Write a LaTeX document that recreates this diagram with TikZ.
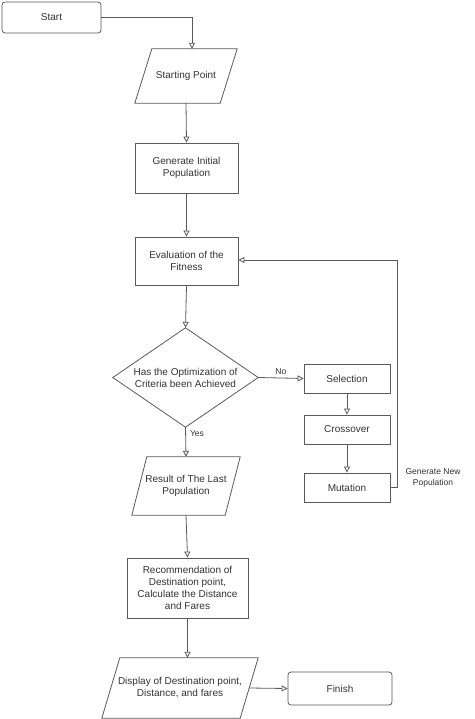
\documentclass[tikz,border=0pt]{standalone}
\usepackage{fontspec}
\setmainfont{Liberation Sans}
\usetikzlibrary{arrows.meta,calc}
\definecolor{linec}{HTML}{5A5A5A}
\definecolor{textc}{HTML}{333333}
\begin{document}
\begin{tikzpicture}[x=1pt,y=-1pt,
  every node/.style={font=\fontsize{10}{12}\selectfont, text=textc, align=center, inner sep=0pt},
  box/.style={draw=linec, line width=0.8pt, fill=white},
  rbox/.style={box, rounded corners=3pt},
  shapebox/.style={},
  arr/.style={draw=linec, line width=0.8pt, -{Triangle[open, length=6pt, width=6pt]}},
  conn/.style={draw=linec, line width=0.8pt},
  lbl/.style={font=\fontsize{8.5}{11}\selectfont}
]
\useasboundingbox (0,0) rectangle (474,719);
\fill[white] (0,0) rectangle (474,719);

% nodes
\node[rbox, minimum width=99pt, minimum height=31pt] (start) at (51.5,17.5) {Start};
\node[shapebox, minimum width=102pt, minimum height=54pt] (sp) at (186,76) {Starting Point};
\node[box, minimum width=103pt, minimum height=50pt] (gen) at (186.5,168) {Generate Initial\\Population};
\node[box, minimum width=103pt, minimum height=48pt] (eval) at (186.5,261) {Evaluation of the\\Fitness};
\node[shapebox, minimum width=145pt, minimum height=99pt] (dec) at (185.5,377.5) {Has the Optimization of\\Criteria been Achieved};
\node[box, minimum width=86pt, minimum height=29pt] (sel) at (347,378.5) {Selection};
\node[box, minimum width=86pt, minimum height=29pt] (cro) at (347,429.5) {Crossover};
\node[box, minimum width=86pt, minimum height=29pt] (mut) at (347,487.5) {Mutation};
\node[shapebox, minimum width=108pt, minimum height=58pt] (res) at (186,486) {Result of The Last\\Population};
\node[box, minimum width=121pt, minimum height=60pt] (rec) at (187.5,588) {Recommendation of\\Destination point,\\Calculate the Distance\\and Fares};
\node[shapebox, minimum width=156pt, minimum height=60pt] (disp) at (180,688) {Display of Destination point,\\Distance, and fares};
\node[rbox, minimum width=104pt, minimum height=33pt] (fin) at (340,688.5) {Finish};

% outlines of parallelograms and diamond
\draw[conn] ([xshift=17pt]sp.north west) -- (sp.north east) -- ([xshift=-17pt]sp.south east) -- (sp.south west) -- cycle;
\draw[conn] ([xshift=15pt]res.north west) -- (res.north east) -- ([xshift=-15pt]res.south east) -- (res.south west) -- cycle;
\draw[conn] ([xshift=18pt]disp.north west) -- (disp.north east) -- ([xshift=-18pt]disp.south east) -- (disp.south west) -- cycle;
\draw[conn] (dec.north) -- (dec.east) -- (dec.south) -- (dec.west) -- cycle;

% connectors
\draw[arr] (start.east) -| ([xshift=6pt]sp.north);
\draw[arr] (sp.south) -- (gen.north);
\draw[arr] (gen.south) -- (eval.north);
\draw[arr] (eval.south) -- (dec.north);
\draw[arr] (dec.east) -- node[lbl, above=3pt, pos=0.5] (no) {No} (sel.west);
\draw[arr] (sel.south) -- (cro.north);
\draw[arr] (cro.south) -- (mut.north);
\draw[arr] (mut.east) -- ++(7,0) |- ([yshift=1pt]eval.east);
\node[lbl] (gnp) at (433,478) {Generate New\\Population};
\draw[arr] (dec.south) -- node[lbl, right=4pt, pos=0.2] (yes) {Yes} (res.north);
\draw[arr] (res.south) -- (rec.north);
\draw[arr] (rec.south) -- (rec.south |- disp.north);
\draw[arr] ([xshift=-9pt]disp.east) -- (fin.west);
\end{tikzpicture}
\end{document}
